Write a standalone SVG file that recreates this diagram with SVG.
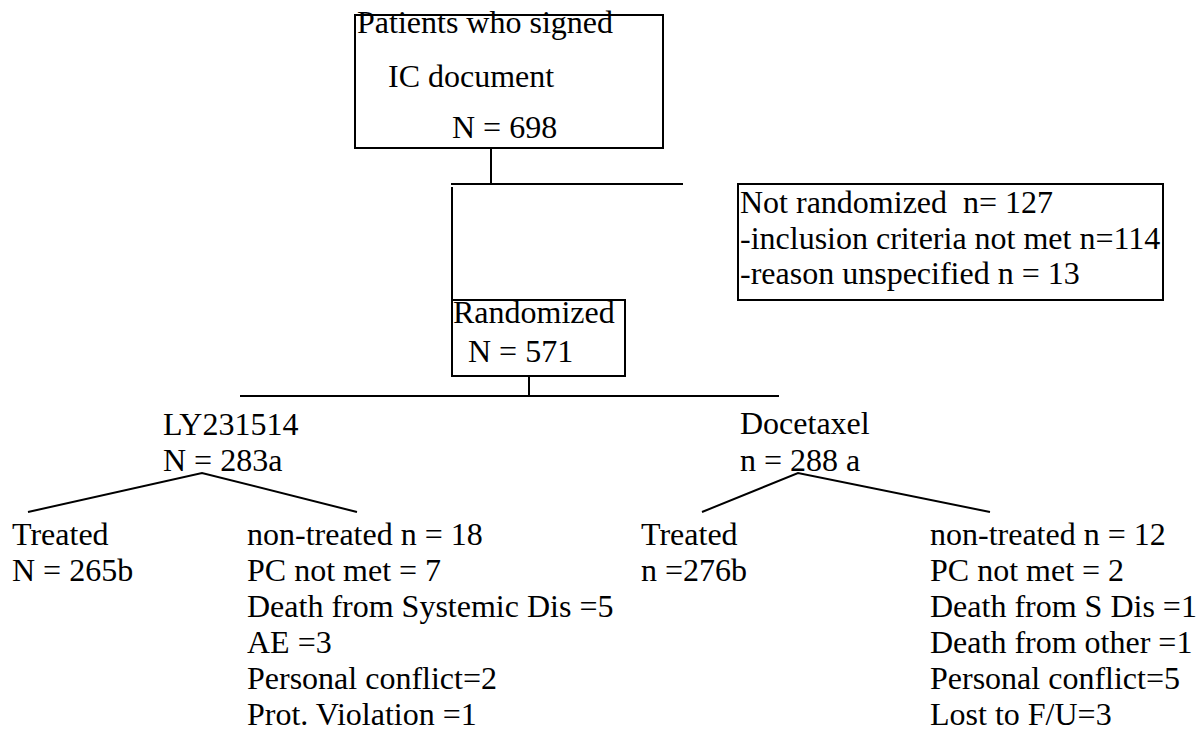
<svg xmlns="http://www.w3.org/2000/svg" width="1199" height="730" viewBox="0 0 1199 730">
<rect width="1199" height="730" fill="#fff"/>
<g id="connectors" stroke="#000" stroke-width="2" fill="none">
<line x1="491" y1="148" x2="491" y2="184"/>
<line x1="451" y1="184" x2="683" y2="184"/>
<line x1="452" y1="187" x2="452" y2="300"/>
<line x1="529" y1="376" x2="529" y2="396"/>
<line x1="240" y1="396" x2="779" y2="396"/>
<polyline points="28,512 202,473 357,512"/>
<polyline points="702,512 798,473 990,512"/>
</g>
<g id="nodes" font-family="Liberation Serif, serif" font-size="32" fill="#000">
<g id="consented">
<rect x="355" y="15" width="308" height="133" fill="#fff" stroke="#000" stroke-width="2"/>
<text x="357" y="33">Patients who signed</text>
<text x="388" y="87">IC document</text>
<text x="452" y="138">N = 698</text>
</g>
<g id="not-randomized">
<rect x="738" y="184" width="425" height="116" fill="#fff" stroke="#000" stroke-width="2"/>
<text x="740" y="213" xml:space="preserve">Not randomized  n= 127</text>
<text x="740" y="249">-inclusion criteria not met n=114</text>
<text x="740" y="284">-reason unspecified n = 13</text>
</g>
<g id="randomized">
<rect x="452" y="300" width="173" height="76" fill="#fff" stroke="#000" stroke-width="2"/>
<text x="453" y="323">Randomized</text>
<text x="468" y="362">N = 571</text>
</g>
<g id="ly-arm">
<text x="163" y="435">LY231514</text>
<text x="163" y="471">N = 283a</text>
</g>
<g id="doc-arm">
<text x="740" y="434">Docetaxel</text>
<text x="740" y="471">n = 288 a</text>
</g>
<g id="ly-treated">
<text x="12" y="545">Treated</text>
<text x="12" y="581">N = 265b</text>
</g>
<g id="ly-nontreated">
<text x="247" y="545">non-treated n = 18</text>
<text x="247" y="581">PC not met = 7</text>
<text x="247" y="617">Death from Systemic Dis =5</text>
<text x="247" y="653">AE =3</text>
<text x="247" y="689">Personal conflict=2</text>
<text x="247" y="725">Prot. Violation =1</text>
</g>
<g id="doc-treated">
<text x="641" y="545">Treated</text>
<text x="641" y="581">n =276b</text>
</g>
<g id="doc-nontreated">
<text x="930" y="545">non-treated n = 12</text>
<text x="930" y="581">PC not met = 2</text>
<text x="930" y="617">Death from S Dis =1</text>
<text x="930" y="653">Death from other =1</text>
<text x="930" y="689">Personal conflict=5</text>
<text x="930" y="725">Lost to F/U=3</text>
</g>
</g>
</svg>
